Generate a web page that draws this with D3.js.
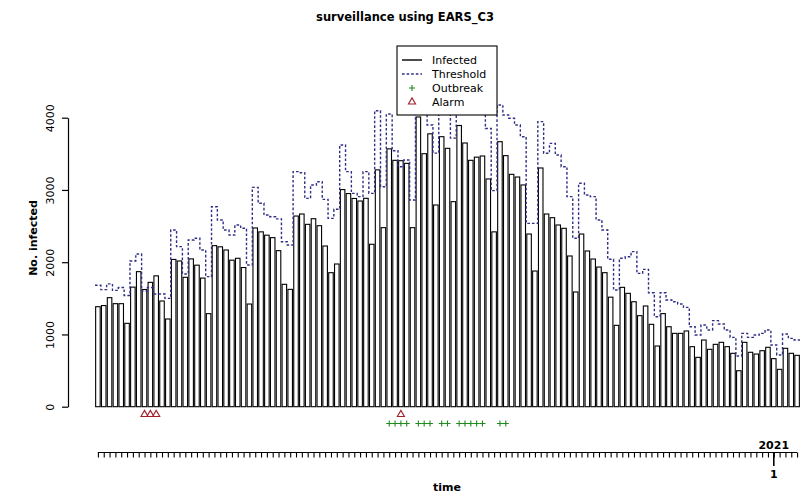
<!DOCTYPE html>
<meta charset="utf-8">
<head>
  <script src="https://d3js.org/d3.v7.min.js"></script>
  <style>
    body { margin: 0; background: #fff; }
    text { font-family: "DejaVu Sans", sans-serif; fill: #000; }
  </style>
</head>
<body>
<svg id="chart" width="801" height="493"></svg>
<script>
  // daily counts, one value per bar
  const infected = [1384, 1400, 1509, 1426, 1426, 1154, 1655, 1869, 1622, 1721,
    1811, 1463, 1214, 2038, 2017, 1791, 2046, 1959, 1780, 1288,
    2229, 2213, 2169, 2028, 2054, 1926, 1421, 2474, 2420, 2374,
    2340, 2160, 1694, 1624, 2639, 2667, 2524, 2602, 2505, 2224,
    1855, 1975, 3005, 2950, 2882, 2847, 2884, 2248, 3278, 2478,
    3569, 3410, 3405, 3368, 2478, 4010, 3502, 3777, 2792, 3737,
    3576, 2838, 3892, 3650, 3410, 3454, 3470, 3152, 2420, 3668,
    3475, 3216, 3179, 3069, 2390, 1878, 3304, 2667, 2616, 2515,
    2469, 2086, 1588, 2390, 2155, 2044, 1933, 1855, 1516, 1126,
    1652, 1569, 1453, 1260, 1394, 1140, 840, 1288, 1107, 1015,
    1015, 1048, 831, 683, 923, 794, 863, 891, 831, 739,
    498, 891, 753, 729, 775, 822, 665, 517, 808, 739, 711]

  const threshold = [1680, 1620, 1700, 1610, 1650, 1540, 2017, 2113, 1600, 1650,
    1560, 1560, 1500, 2446, 2215, 1837, 2307, 2331, 2169, 1800,
    2768, 2584, 2446, 2376, 2515, 2469, 1961, 3036, 2815, 2653,
    2630, 2600, 2284, 2238, 3253, 3239, 2884, 3069, 3114, 2870,
    2607, 2732, 3622, 3253, 2953, 2907, 3253, 2953, 4097, 3045,
    4051, 3543, 3322, 3415, 2861, 4150, 4100, 3900, 3510, 4120,
    4100, 3718, 4150, 4120, 4100, 4130, 4150, 3850, 2990, 4176,
    4037, 3992, 3899, 3737, 2538, 2538, 3945, 3507, 3645, 3484,
    3322, 2907, 2331, 3092, 2930, 2907, 2584, 2446, 2040, 1615,
    2054, 2076, 2146, 1846, 1901, 1578, 1246, 1578, 1477, 1453,
    1421, 1375, 1107, 992, 1131, 1062, 1191, 1145, 1062, 960,
    702, 1015, 960, 992, 1015, 1062, 854, 716, 1006, 946, 923]

  const outbreakIdx = [50, 51, 52, 53, 55, 56, 57, 59, 60, 62, 63, 64, 65, 66, 69, 70]
  const alarmIdx = [8, 9, 10, 52]

  const yTicks = [0, 1000, 2000, 3000, 4000]
  const yearTickIdx = 116
  const yearLabel = "2021"
  const dayLabel = "1"

  const legendItems = ["Infected", "Threshold", "Outbreak", "Alarm"]

  const N = infected.length
  const svg = d3.select("#chart")
  const thrColor = "#2f2f86"

  const xe = d3.scaleLinear().domain([0, N]).range([95, 800])
  const y = d3.scaleLinear().domain([0, 4000]).range([406.7, 117.7])
  const gap = 1.3
  const mid = i => xe(i + 0.5)

  // bars
  svg.append("g")
    .selectAll("rect")
    .data(infected)
    .join("rect")
    .attr("x", (d, i) => xe(i) + gap / 2)
    .attr("y", d => y(d))
    .attr("width", xe(1) - xe(0) - gap)
    .attr("height", d => y(0) - y(d))
    .attr("fill", "#fff")
    .attr("stroke", "#000")
    .attr("stroke-width", 1.1)

  // threshold as step line over bar edges
  const thrPts = threshold.map((d, i) => [i, d]).concat([[N, threshold[N - 1]]])
  svg.append("path")
    .attr("d", d3.line().x(d => xe(d[0])).y(d => y(d[1])).curve(d3.curveStepAfter)(thrPts))
    .attr("fill", "none")
    .attr("stroke", thrColor)
    .attr("stroke-width", 1.4)
    .attr("stroke-dasharray", "2.6,2")

  // alarms and outbreaks under the bars
  const tri = d3.symbol().type(d3.symbolTriangle).size(22)
  svg.append("g")
    .selectAll("path")
    .data(alarmIdx)
    .join("path")
    .attr("d", tri)
    .attr("transform", d => `translate(${mid(d)},414.5)`)
    .attr("fill", "none")
    .attr("stroke", "#a0202c")
    .attr("stroke-width", 1.1)

  svg.append("g")
    .selectAll("path")
    .data(outbreakIdx)
    .join("path")
    .attr("d", d => {
      const cx = mid(d), cy = 423.5
      return `M${cx - 3},${cy}H${cx + 3}M${cx},${cy - 3}V${cy + 3}`
    })
    .attr("stroke", "#1f8a1f")
    .attr("stroke-width", 1.1)

  // y axis
  const yAxis = svg.append("g")
    .attr("transform", "translate(68,0)")
    .call(d3.axisLeft(y).tickValues(yTicks).tickSize(6).tickSizeOuter(0).tickFormat(d3.format("d")))
  yAxis.select(".domain").attr("stroke-width", 1.2)
  yAxis.selectAll(".tick line").attr("stroke-width", 1.2)
  yAxis.selectAll(".tick text")
    .attr("x", 0).attr("dy", 0)
    .attr("transform", "translate(-14,0) rotate(-90)")
    .attr("text-anchor", "middle")
    .style("font-size", "11px")
    .style("font-family", "DejaVu Sans, sans-serif")

  // time axis
  const tAxis = svg.append("g")
    .attr("transform", "translate(0,452.5)")
    .call(d3.axisBottom(d3.scaleLinear().domain([0, N]).range([95, 800]))
      .tickValues(d3.range(N).map(i => i + 0.5))
      .tickSize(5).tickSizeOuter(0).tickFormat(""))
  tAxis.select(".domain").attr("d", `M${mid(0)},0H${mid(N - 1)}`).attr("stroke-width", 1.2)
  tAxis.selectAll(".tick line").attr("stroke-width", 1.1)

  svg.append("line")
    .attr("x1", mid(yearTickIdx)).attr("x2", mid(yearTickIdx))
    .attr("y1", 452.5).attr("y2", 466)
    .attr("stroke", "#000").attr("stroke-width", 1.6)
  svg.append("text")
    .attr("x", mid(yearTickIdx)).attr("y", 449)
    .attr("text-anchor", "middle")
    .style("font-size", "11px").style("font-weight", "bold")
    .text(yearLabel)
  svg.append("text")
    .attr("x", mid(yearTickIdx)).attr("y", 478)
    .attr("text-anchor", "middle")
    .style("font-size", "11px").style("font-weight", "bold")
    .text(dayLabel)

  // titles
  svg.append("text")
    .attr("x", 405).attr("y", 21)
    .attr("text-anchor", "middle")
    .style("font-size", "11.5px").style("font-weight", "bold")
    .text("surveillance using EARS_C3")
  svg.append("text")
    .attr("x", 447).attr("y", 491)
    .attr("text-anchor", "middle")
    .style("font-size", "11px").style("font-weight", "bold")
    .text("time")
  svg.append("text")
    .attr("transform", "translate(37,238) rotate(-90)")
    .attr("text-anchor", "middle")
    .style("font-size", "11px").style("font-weight", "bold")
    .text("No. infected")

  // legend
  const lg = svg.append("g")
  lg.append("rect")
    .attr("x", 397).attr("y", 46).attr("width", 100).attr("height", 69)
    .attr("fill", "#fff").attr("stroke", "#000").attr("stroke-width", 1.1)
  const rowY = i => 60 + i * 14
  lg.selectAll("text")
    .data(legendItems)
    .join("text")
    .attr("x", 432).attr("y", (d, i) => rowY(i) + 4)
    .style("font-size", "11px")
    .text(d => d)
  lg.append("line")
    .attr("x1", 402).attr("x2", 422).attr("y1", rowY(0)).attr("y2", rowY(0))
    .attr("stroke", "#000").attr("stroke-width", 1.4)
  lg.append("line")
    .attr("x1", 402).attr("x2", 422).attr("y1", rowY(1)).attr("y2", rowY(1))
    .attr("stroke", thrColor).attr("stroke-width", 1.4).attr("stroke-dasharray", "2.6,2")
  lg.append("path")
    .attr("d", `M409,${rowY(2)}H415M412,${rowY(2) - 3}V${rowY(2) + 3}`)
    .attr("stroke", "#1f8a1f").attr("stroke-width", 1.1)
  lg.append("path")
    .attr("d", tri)
    .attr("transform", `translate(412,${rowY(3)})`)
    .attr("fill", "none").attr("stroke", "#a0202c").attr("stroke-width", 1.1)
</script>
</body>
